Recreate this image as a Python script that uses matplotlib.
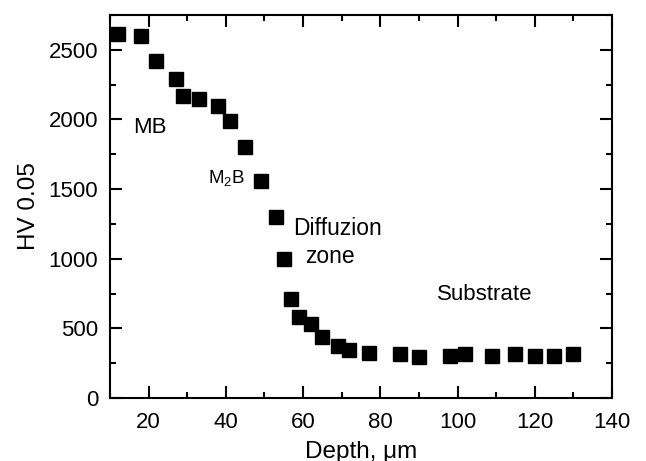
import matplotlib
matplotlib.use("Agg")
import matplotlib.pyplot as plt
from matplotlib.ticker import MultipleLocator

plt.rcParams['font.family'] = ['Liberation Sans', 'DejaVu Sans']

depth = [12, 18, 22, 27, 29, 33, 38, 41, 45, 49, 53, 55, 57, 59, 62, 65,
         69, 72, 77, 85, 90, 98, 102, 109, 115, 120, 125, 130]
hv = [2615, 2600, 2420, 2290, 2170, 2145, 2100, 1990, 1800, 1560, 1300, 1000,
      710, 585, 530, 435, 370, 345, 325, 315, 295, 305, 315, 300, 315, 300, 305, 315]

fig = plt.figure(figsize=(6.46, 4.61), dpi=100)
ax = fig.add_axes([110/646, 1-398/461, (612-110)/646, (398-15)/461])

ax.plot(depth, hv, linestyle='none', marker='s', markersize=10.5, color='black')

ax.set_xlim(10, 140)
ax.set_ylim(0, 2750)
ax.xaxis.set_major_locator(MultipleLocator(20))
ax.xaxis.set_minor_locator(MultipleLocator(10))
ax.yaxis.set_major_locator(MultipleLocator(500))
ax.yaxis.set_minor_locator(MultipleLocator(250))

for s in ax.spines.values():
    s.set_linewidth(1.5)
ax.tick_params(which='both', direction='in', top=True, right=True, width=1.5)
ax.tick_params(which='major', length=8.5, labelsize=16)
ax.tick_params(axis='y', which='major', pad=8.5)
ax.tick_params(axis='x', which='major', pad=10)
ax.tick_params(which='minor', length=4.5)

ax.set_xlabel('Depth, \u03bcm', fontsize=17.5, labelpad=5.5)
ax.set_ylabel('HV 0.05', fontsize=17.5, labelpad=6)

ax.text(16, 1902, 'MB', fontsize=16, ha='left', va='baseline')
ax.text(35.4, 1541, 'M$_\\mathregular{2}$B', fontsize=13.5, ha='left', va='baseline')
ax.text(57.3, 1170, 'Diffuzion', fontsize=16.5, ha='left', va='baseline')
ax.text(60.5, 970, 'zone', fontsize=16.5, ha='left', va='baseline')
ax.text(94.6, 705, 'Substrate', fontsize=16, ha='left', va='baseline')

fig.savefig('out.png', dpi=100)
